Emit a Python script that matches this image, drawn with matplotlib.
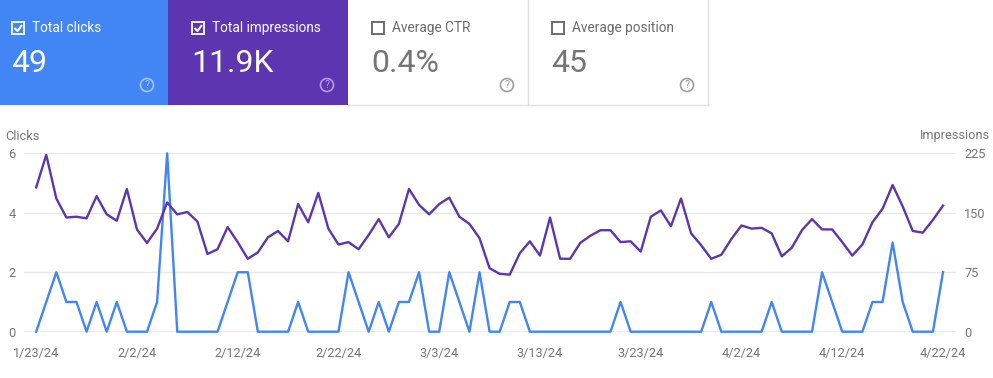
import matplotlib
matplotlib.use("Agg")
import matplotlib.pyplot as plt
from matplotlib.patches import Rectangle, Circle
import pandas as pd

plt.rcParams["font.family"] = ["Roboto", "DejaVu Sans"]

# data
start_date = "2024-01-23"
clicks = [
    0, 1, 2, 1, 1, 0, 1, 0, 1, 0, 0, 0, 1, 6, 0, 0, 0, 0, 0, 1,
    2, 2, 0, 0, 0, 0, 1, 0, 0, 0, 0, 2, 1, 0, 1, 0, 1, 1, 2, 0,
    0, 2, 1, 0, 2, 0, 0, 1, 1, 0, 0, 0, 0, 0, 0, 0, 0, 0, 1, 0,
    0, 0, 0, 0, 0, 0, 0, 1, 0, 0, 0, 0, 0, 1, 0, 0, 0, 0, 2, 1,
    0, 0, 0, 1, 1, 3, 1, 0, 0, 0, 2,
]
impressions = [
    182, 223, 168, 144, 145, 143, 171, 148, 140, 180, 129, 112, 130, 163, 148, 151, 139, 98, 104, 132,
    113, 92, 100, 119, 127, 114, 161, 138, 175, 130, 110, 113, 104, 122, 142, 119, 136, 180, 160, 148,
    161, 169, 145, 136, 118, 80, 73, 72, 99, 114, 96, 144, 92, 92, 112, 121, 128, 128, 113, 114,
    101, 145, 153, 133, 168, 124, 109, 92, 97, 117, 134, 130, 131, 124, 95, 106, 128, 142, 129, 129,
    113, 96, 110, 138, 155, 185, 158, 127, 125, 141, 159,
]
card_titles = ["Total clicks", "Total impressions", "Average CTR", "Average position"]
card_values = ["49", "11.9K", "0.4%", "45"]
card_checked = [True, True, False, False]
clicks_ticks = [0, 2, 4, 6]
impr_ticks = [0, 75, 150, 225]

dates = pd.date_range(start_date, periods=len(clicks), freq="D")

BLUE = "#4285f4"
PURPLE = "#5e35b1"
GREY_TXT = "#757575"

fig = plt.figure(figsize=(9.93, 3.78), dpi=100)

# card strip drawn in pixel coordinates
bg = fig.add_axes([0, 0, 1, 1])
bg.set_xlim(0, 993)
bg.set_ylim(378, 0)
bg.axis("off")

card_bg = [BLUE, PURPLE, "white", "white"]
for i in range(4):
    x0 = -12 + 180 * i   # first card is cut off at the left edge
    w = 180
    filled = card_bg[i] != "white"
    bg.add_patch(Rectangle((x0, 0), w, 105, facecolor=card_bg[i],
                           edgecolor="none", zorder=1))
    if not filled:
        bg.plot([x0 + w, x0 + w], [0, 105], color="#e0e0e0", lw=1, zorder=2)
        bg.plot([x0, x0 + w], [105, 105], color="#e0e0e0", lw=1, zorder=2)
    fg = "white" if filled else GREY_TXT
    title_c = "white" if filled else "#6b6b6b"
    box_c = "white" if filled else "#5f6368"
    bg.add_patch(Rectangle((x0 + 24, 22), 12, 12, facecolor="none",
                           edgecolor=box_c, lw=1.3, zorder=3))
    if card_checked[i]:
        bg.plot([x0 + 26.5, x0 + 29.5, x0 + 34], [28, 31, 25], color="white",
                lw=1.5, solid_capstyle="butt", zorder=3)
    bg.text(x0 + 44, 28, card_titles[i], color=title_c, fontsize=9.8,
            va="center", ha="left", zorder=3)
    bg.text(x0 + 23, 63, card_values[i], color=fg, fontsize=23,
            va="center", ha="left", zorder=3)
    q_c = "#a9c6fa" if i == 0 else ("#b29ddb" if i == 1 else "#9e9e9e")
    bg.add_patch(Circle((x0 + w - 21, 85), 6.5, facecolor="none",
                        edgecolor=q_c, lw=1.2, zorder=3))
    bg.text(x0 + w - 21, 85.5, "?", color=q_c, fontsize=7.5,
            ha="center", va="center", zorder=3)

# chart
ax = fig.add_axes([24 / 993, 46.3 / 378, 932 / 993, 178.4 / 378])
ax2 = ax.twinx()

ax.plot(dates, clicks, color=BLUE, lw=1.7, clip_on=False, zorder=3)
ax2.plot(dates, impressions, color=PURPLE, lw=1.7, clip_on=False, zorder=3)

ax.set_ylim(0, 6)
ax2.set_ylim(0, 225)
ax.set_yticks(clicks_ticks)
ax2.set_yticks(impr_ticks)
ax.set_xlim(dates[0] - pd.Timedelta(hours=29), dates[-1] + pd.Timedelta(hours=31))

for y in clicks_ticks[1:]:
    ax.axhline(y, color="#e8e8e8", lw=1, zorder=0)
ax.axhline(0, color="#9e9e9e", lw=1, zorder=1)

tick_dates = dates[::10]
ax.set_xticks(tick_dates)
ax.set_xticklabels([f"{d.month}/{d.day}/{d.year % 100}" for d in tick_dates])

for a in (ax, ax2):
    for s in a.spines.values():
        s.set_visible(False)
    a.tick_params(length=0, labelsize=9.2, colors=GREY_TXT)
    a.patch.set_visible(False)
ax.tick_params(axis="y", pad=6)
ax2.tick_params(axis="y", pad=6)
ax.tick_params(axis="x", pad=11)

fig.text(5 / 993, 1 - 136 / 378, "Clicks", fontsize=9.2, color=GREY_TXT,
         ha="left", va="center")
fig.text(990 / 993, 1 - 136 / 378, "Impressions", fontsize=9.2, color=GREY_TXT,
         ha="right", va="center")

fig.savefig("out.png", dpi=100)
